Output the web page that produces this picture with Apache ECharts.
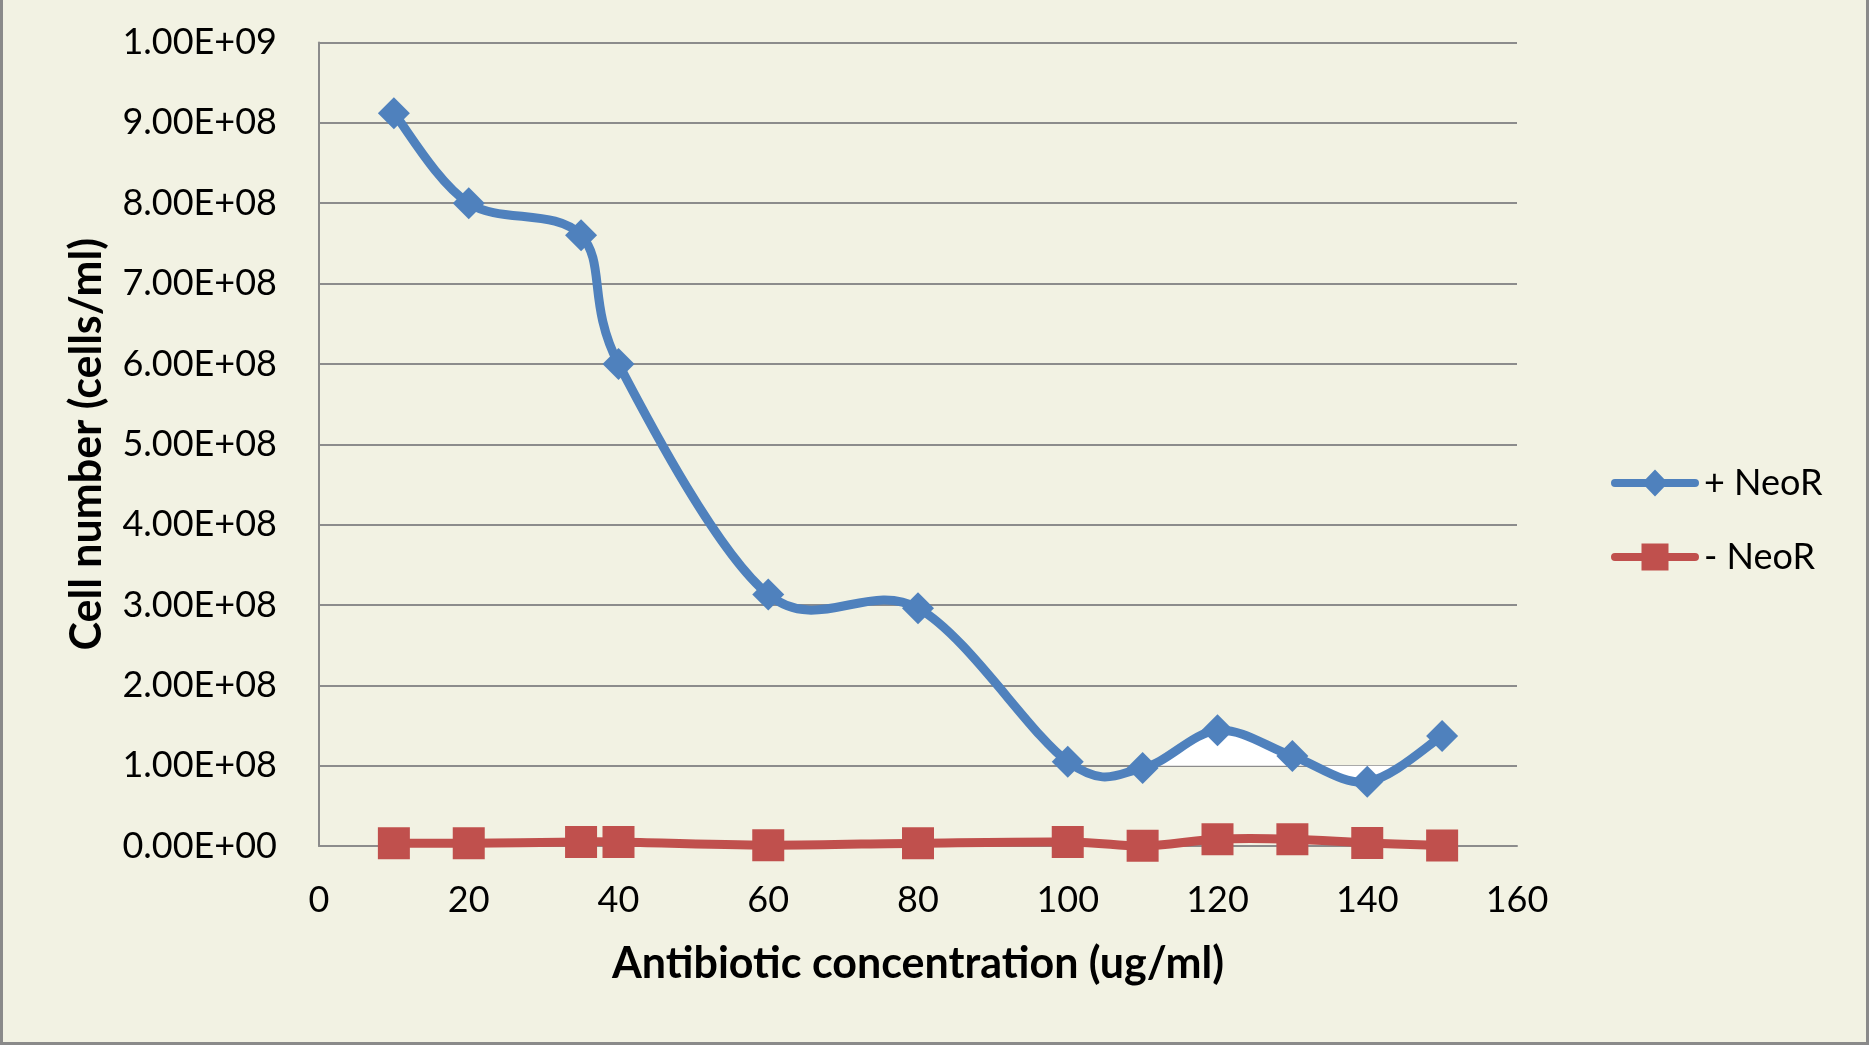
<!DOCTYPE html>
<html>
<head>
<meta charset="utf-8">
<script src="https://cdn.jsdelivr.net/npm/echarts@6/dist/echarts.min.js"></script>
<style>
html,body{margin:0;padding:0;background:#F2F2E3;}
#c{width:1869px;height:1045px;}
</style>
</head>
<body>
<div id="c"></div>
<script>
const xTicks = [0, 20, 40, 60, 80, 100, 120, 140, 160];
const concentration = [10, 20, 35, 40, 60, 80, 100, 110, 120, 130, 140, 150];
const plusNeoR = [9.12e8, 8.0e8, 7.6e8, 6.0e8, 3.13e8, 2.96e8, 1.05e8, 0.97e8, 1.44e8, 1.12e8, 0.80e8, 1.37e8];
const minusNeoR = [3.5e6, 3.5e6, 5e6, 5e6, 1e6, 3.5e6, 5e6, 0.2e6, 8.5e6, 8.5e6, 3.7e6, 0.5e6];
const seriesNames = ['+ NeoR', '- NeoR'];
// white rendering artefact of the original: area between the +NeoR curve and the 1.00E+08 gridline from x=110 on
const artefactStartX = 110;
const artefactBaseline = 1e8;

const BLUE = '#4F81BD', RED = '#C0504D';

function fmtE(v) {
  let s = Number(v).toExponential(2).toUpperCase();
  return s.replace(/E([+-])(\d)$/, 'E$10$2');
}

// Excel-like smoothing: Catmull-Rom style Bezier with tension 1/6, in pixel space from the chart's own scales
function segment(api, xs, ys, i) {
  const n = xs.length;
  const P = k => { const j = Math.max(0, Math.min(n - 1, k)); return api.coord([xs[j], ys[j]]); };
  const p0 = P(i - 1), p1 = P(i), p2 = P(i + 1), p3 = P(i + 2);
  const t = 1 / 6;
  return [p1,
    [p1[0] + (p2[0] - p0[0]) * t, p1[1] + (p2[1] - p0[1]) * t],
    [p2[0] - (p3[0] - p1[0]) * t, p2[1] - (p3[1] - p1[1]) * t],
    p2];
}
function bez(s, t) {
  const u = 1 - t;
  const a = u * u * u, b = 3 * u * u * t, c = 3 * u * t * t, d = t * t * t;
  return [a * s[0][0] + b * s[1][0] + c * s[2][0] + d * s[3][0],
          a * s[0][1] + b * s[1][1] + c * s[2][1] + d * s[3][1]];
}

function curveSeries(name, xs, ys, color) {
  const n = xs.length;
  return {
    name: name, type: 'custom', coordinateSystem: 'cartesian2d',
    data: xs.map((x, i) => [x, ys[i]]),
    encode: {x: 0, y: 1},
    itemStyle: {color: color},
    silent: true, z: 2,
    renderItem: function (params, api) {
      const i = params.dataIndex;
      if (i >= n - 1) return null;
      const s = segment(api, xs, ys, i);
      return {
        type: 'bezierCurve',
        shape: {x1: s[0][0], y1: s[0][1], cpx1: s[1][0], cpy1: s[1][1],
                cpx2: s[2][0], cpy2: s[2][1], x2: s[3][0], y2: s[3][1]},
        style: {stroke: color, lineWidth: 9, fill: null, lineCap: 'round'}
      };
    }
  };
}

function artefactSeries(xs, ys) {
  const n = xs.length;
  const start = xs.indexOf(artefactStartX);
  return {
    type: 'custom', coordinateSystem: 'cartesian2d', silent: true, z: 1,
    data: xs.map((x, i) => [x, ys[i]]),
    encode: {x: 0, y: 1},
    renderItem: function (params, api) {
      if (params.dataIndex !== start) return null;
      const lineY = api.coord([0, artefactBaseline])[1];
      const pts = [];
      let done = false;
      for (let j = start; j <= n - 2 && !done; j++) {
        const s = segment(api, xs, ys, j);
        for (let k = 0; k <= 40; k++) {
          const p = bez(s, k / 40);
          if (j === n - 2 && p[1] < lineY && pts.length) {
            const q = pts[pts.length - 1];
            const f = (q[1] - lineY) / (q[1] - p[1]);
            pts.push([q[0] + (p[0] - q[0]) * f, lineY]);
            done = true; break;
          }
          pts.push(p);
        }
      }
      pts.push([pts[pts.length - 1][0], lineY]);
      pts.push([pts[0][0], lineY]);
      return {type: 'polygon', shape: {points: pts}, style: {fill: '#FFFFFF'}};
    }
  };
}

const chart = echarts.init(document.getElementById('c'));
const font = 'Lato';
chart.setOption({
  backgroundColor: '#F2F2E3',
  animation: false,
  grid: {left: 319, right: 352, top: 42.5, bottom: 199, containLabel: false},
  xAxis: {
    type: 'value', min: 0, max: 160, interval: 20,
    name: 'Antibiotic concentration (ug/ml)', nameLocation: 'middle', nameGap: 97,
    nameTextStyle: {fontFamily: font, fontSize: 43, fontWeight: 'bold', color: '#000'},
    axisLine: {show: true, lineStyle: {color: '#8C8C8C', width: 2}},
    axisTick: {show: false},
    splitLine: {show: false},
    axisLabel: {fontFamily: font, fontSize: 36, color: '#000', margin: 36,
      formatter: v => xTicks.includes(v) ? String(v) : ''}
  },
  yAxis: {
    type: 'value', min: 0, max: 1e9, interval: 1e8,
    name: 'Cell number (cells/ml)', nameLocation: 'middle', nameGap: 210, nameRotate: 90,
    nameTextStyle: {fontFamily: font, fontSize: 43, fontWeight: 'bold', color: '#000'},
    axisLine: {show: true, lineStyle: {color: '#8C8C8C', width: 2}},
    axisTick: {show: false},
    splitLine: {show: true, lineStyle: {color: '#8C8C8C', width: 2}},
    axisLabel: {fontFamily: font, fontSize: 36, color: '#000', margin: 42, formatter: fmtE}
  },
  legend: {
    orient: 'vertical', left: 1606, top: 460, itemWidth: 88, itemHeight: 27, itemGap: 38,
    textStyle: {fontFamily: font, fontSize: 36, color: '#000', padding: [0, 0, 0, 0]},
    data: [
      {name: seriesNames[0], icon: 'path://M4,9.5 L84,9.5 A4,4 0 0 1 84,17.5 L4,17.5 A4,4 0 0 1 4,9.5 Z M44,0 L57,13.5 L44,27 L31,13.5 Z'},
      {name: seriesNames[1], icon: 'path://M4,9.5 L84,9.5 A4,4 0 0 1 84,17.5 L4,17.5 A4,4 0 0 1 4,9.5 Z M30.5,0 L57.5,0 L57.5,27 L30.5,27 Z'}
    ]
  },
  series: [
    artefactSeries(concentration, plusNeoR),
    curveSeries(seriesNames[0], concentration, plusNeoR, BLUE),
    curveSeries(seriesNames[1], concentration, minusNeoR, RED),
    {
      name: seriesNames[0], type: 'scatter', z: 3,
      data: concentration.map((x, i) => [x, plusNeoR[i]]),
      symbol: 'diamond', symbolSize: 32,
      itemStyle: {color: BLUE, opacity: 1}
    },
    {
      name: seriesNames[1], type: 'scatter', z: 3,
      data: concentration.map((x, i) => [x, minusNeoR[i]]),
      symbol: 'rect', symbolSize: 32,
      itemStyle: {color: RED, opacity: 1}
    }
  ],
  graphic: [
    {type: 'rect', shape: {x: 0, y: 0, width: 3, height: 1045}, style: {fill: '#8A8A8A'}, silent: true},
    {type: 'rect', shape: {x: 1866, y: 0, width: 3, height: 1045}, style: {fill: '#8A8A8A'}, silent: true},
    {type: 'rect', shape: {x: 0, y: 1042, width: 1869, height: 3}, style: {fill: '#8A8A8A'}, silent: true}
  ]
});
</script>
</body>
</html>
